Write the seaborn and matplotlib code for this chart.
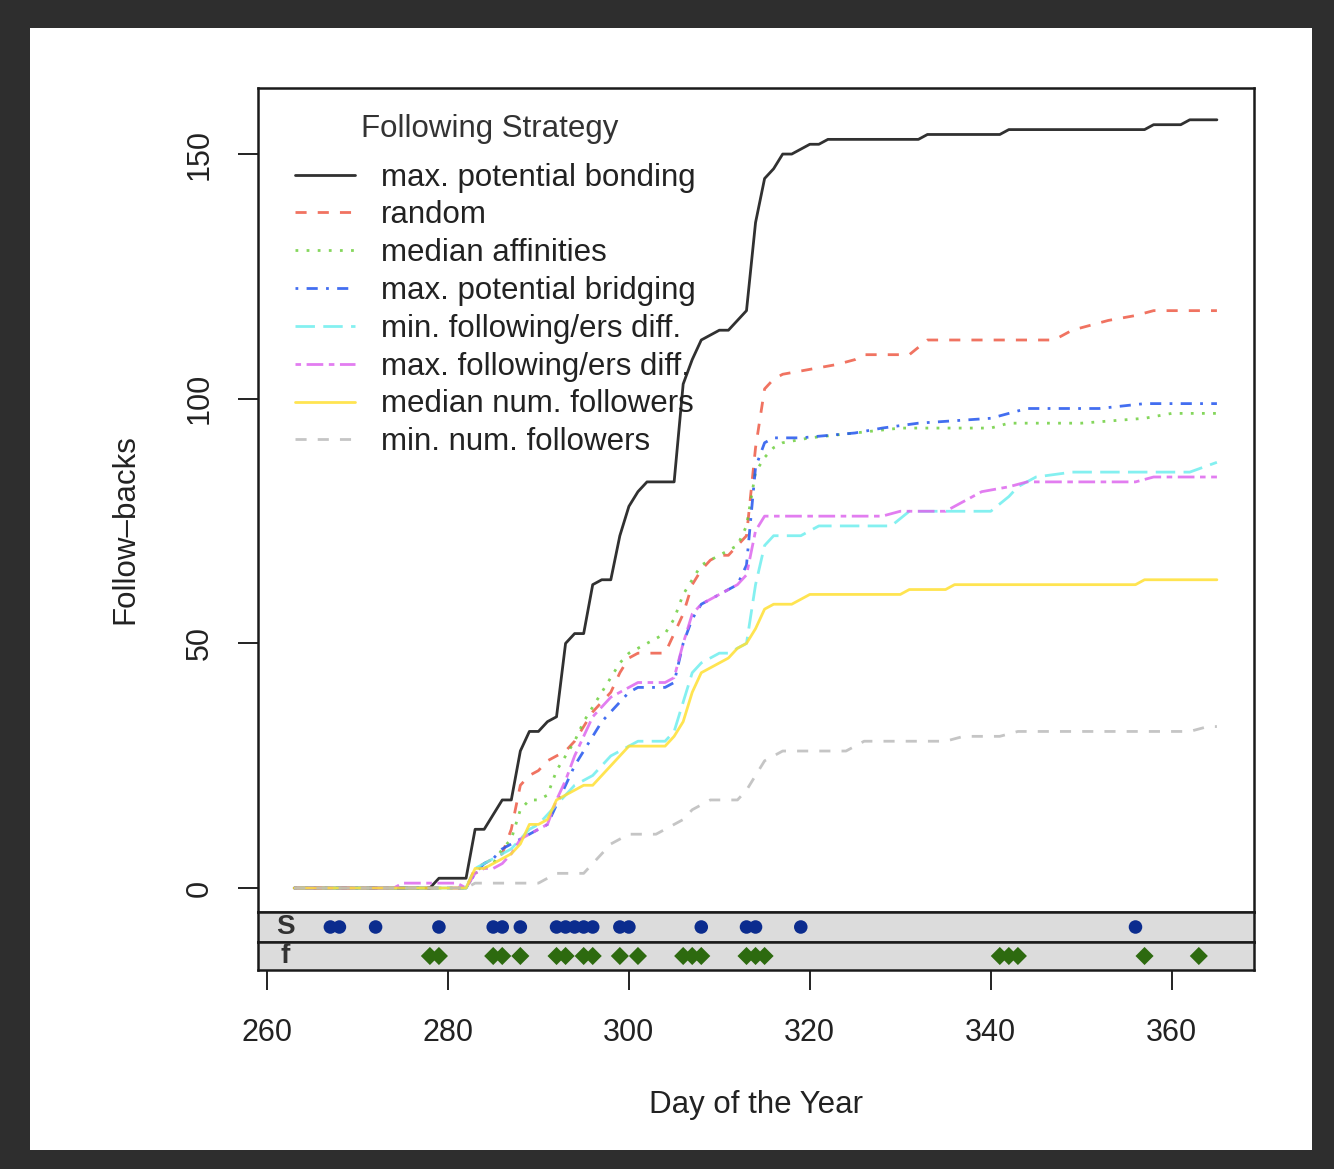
import numpy as np
import pandas as pd
import matplotlib.pyplot as plt
import seaborn as sns
from matplotlib.patches import Rectangle

sns.set_style("white")
plt.rcParams['font.family'] = ['Liberation Sans', 'DejaVu Sans']

# --- data (breakpoints of each cumulative curve) ---
strategies = ['max. potential bonding', 'random', 'median affinities',
              'max. potential bridging', 'min. following/ers diff.',
              'max. following/ers diff.', 'median num. followers',
              'min. num. followers']

bonding_day = [263, 278, 279, 282, 283, 284, 285, 286, 287, 288, 289, 290, 291, 292, 293, 294, 295, 296,
               297, 298, 299, 300, 301, 302, 303, 304, 305, 306, 307, 308, 309, 310, 311, 312, 313, 314,
               315, 316, 317, 318, 319, 320, 321, 322, 332, 333, 341, 342, 357, 358, 361, 362, 365]
bonding_val = [0, 0, 2, 2, 12, 12, 15, 18, 18, 28, 32, 32, 34, 35, 50, 52, 52, 62,
               63, 63, 72, 78, 81, 83, 83, 83, 83, 103, 108, 112, 113, 114, 114, 116, 118, 136,
               145, 147, 150, 150, 151, 152, 152, 153, 153, 154, 154, 155, 155, 156, 156, 157, 157]

random_day = [263, 282, 283, 284, 285, 286, 287, 288, 289, 290, 291, 292, 293, 294, 295, 296, 297, 298,
              299, 300, 301, 304, 305, 306, 307, 308, 309, 310, 311, 312, 313, 314, 315, 316, 317, 320,
              323, 325, 326, 331, 333, 347, 349, 351, 353, 356, 358, 365]
random_val = [0, 0, 4, 5, 6, 7, 12, 21, 23, 24, 26, 27, 28, 30, 33, 36, 38, 40,
              44, 47, 48, 48, 52, 56, 62, 65, 67, 68, 68, 70, 72, 90, 102, 104, 105, 106,
              107, 108, 109, 109, 112, 112, 114, 115, 116, 117, 118, 118]

affin_day = [263, 282, 283, 285, 286, 287, 288, 289, 290, 291, 292, 293, 294, 295, 296, 297, 298, 299,
             300, 301, 302, 303, 304, 305, 306, 307, 308, 309, 310, 311, 312, 313, 314, 315, 316, 317,
             320, 325, 330, 340, 342, 350, 357, 360, 365]
affin_val = [0, 0, 3, 5, 8, 10, 16, 18, 18, 19, 24, 27, 30, 34, 37, 40, 43, 46,
             48, 49, 50, 51, 52, 55, 60, 63, 66, 67, 68, 69, 70, 74, 85, 88, 90, 91,
             92, 93, 94, 94, 95, 95, 96, 97, 97]

bridg_day = [263, 282, 283, 284, 285, 286, 287, 288, 289, 290, 291, 292, 293, 294, 295, 296, 297, 298,
             299, 300, 301, 304, 305, 306, 307, 308, 309, 310, 311, 312, 313, 314, 315, 316, 319, 325,
             328, 332, 340, 344, 352, 357, 365]
bridg_val = [0, 0, 3, 5, 6, 8, 9, 10, 11, 12, 13, 17, 21, 25, 28, 31, 34, 36,
             38, 40, 41, 41, 42, 50, 55, 58, 59, 60, 61, 62, 66, 86, 91, 92, 92, 93,
             94, 95, 96, 98, 98, 99, 99]

minfd_day = [263, 282, 283, 284, 285, 286, 287, 288, 289, 290, 291, 292, 293, 294, 295, 296, 297, 298,
             299, 300, 301, 304, 305, 306, 307, 308, 309, 310, 311, 312, 313, 314, 315, 316, 319, 321,
             329, 331, 340, 342, 343, 345, 349, 362, 365]
minfd_val = [0, 0, 4, 5, 6, 7, 8, 10, 12, 13, 15, 17, 19, 21, 22, 23, 25, 27,
             28, 29, 30, 30, 32, 38, 44, 46, 47, 48, 48, 49, 50, 62, 70, 72, 72, 74,
             74, 77, 77, 80, 82, 84, 85, 85, 87]

maxfd_day = [263, 274, 275, 281, 282, 283, 284, 285, 286, 287, 288, 289, 290, 291, 292, 293, 294, 295,
             296, 297, 298, 299, 300, 301, 304, 305, 306, 307, 308, 309, 310, 311, 312, 313, 314, 315,
             328, 330, 335, 337, 339, 342, 344, 356, 358, 365]
maxfd_val = [0, 0, 1, 1, 0, 3, 4, 4, 5, 7, 10, 11, 12, 13, 18, 22, 27, 31,
             35, 37, 39, 40, 41, 42, 42, 43, 50, 56, 58, 59, 60, 61, 62, 64, 73, 76,
             76, 77, 77, 79, 81, 82, 83, 83, 84, 84]

mednf_day = [263, 282, 283, 284, 285, 286, 287, 288, 289, 290, 291, 292, 293, 294, 295, 296, 297, 298,
             299, 300, 301, 304, 305, 306, 307, 308, 309, 310, 311, 312, 313, 314, 315, 316, 318, 320,
             330, 331, 335, 336, 356, 357, 365]
mednf_val = [0, 0, 4, 4, 5, 6, 7, 9, 13, 13, 14, 18, 19, 20, 21, 21, 23, 25,
             27, 29, 29, 29, 31, 34, 40, 44, 45, 46, 47, 49, 50, 53, 57, 58, 58, 60,
             60, 61, 61, 62, 62, 63, 63]

minnf_day = [263, 282, 283, 290, 291, 292, 295, 296, 297, 298, 299, 300, 303, 304, 305, 306, 307, 308,
             309, 312, 313, 314, 315, 316, 317, 324, 326, 335, 337, 341, 343, 362, 364, 365]
minnf_val = [0, 0, 1, 1, 2, 3, 3, 5, 7, 9, 10, 11, 11, 12, 13, 14, 16, 17,
             18, 18, 20, 23, 26, 27, 28, 28, 30, 30, 31, 31, 32, 32, 33, 33]

# days with follow events in the two rug strips
s_days = [267, 268, 272, 279, 285, 286, 288, 292, 293, 294, 295, 296, 299, 300, 308, 313, 314, 319, 356]
f_days = [278, 279, 285, 286, 288, 292, 293, 295, 296, 299, 301, 306, 307, 308, 313, 314, 315,
          341, 342, 343, 357, 363]

series = [(bonding_day, bonding_val), (random_day, random_val), (affin_day, affin_val),
          (bridg_day, bridg_val), (minfd_day, minfd_val), (maxfd_day, maxfd_val),
          (mednf_day, mednf_val), (minnf_day, minnf_val)]

colors = ['#1a1a1a', '#EE5A45', '#66CC33', '#2255EE', '#6FEEEE', '#DD66EE', '#FFE033', '#BBBBBB']
styles = ['-', (0, (4, 4)), (0, (1, 3)), (0, (1, 3, 4, 3)), (0, (7, 3)), (0, (2, 2, 6, 2)),
          '-', (0, (4, 4))]
alphas = [0.9, 0.85, 0.8, 0.85, 0.85, 0.85, 0.85, 0.85]

W, H = 1334, 1169
txt = '#222222'

fig = plt.figure(figsize=(W / 100, H / 100), dpi=100)
fig.patch.set_facecolor('#2e2e2e')
fig.add_artist(Rectangle((30 / W, 1 - 1150 / H), 1282 / W, 1122 / H,
                         transform=fig.transFigure, facecolor='white', edgecolor='none', zorder=-10))

ax = fig.add_axes([258 / W, 1 - 912 / H, 996 / W, 824 / H])
axs = fig.add_axes([258 / W, 1 - 942 / H, 996 / W, 30 / H], sharex=ax)
axf = fig.add_axes([258 / W, 1 - 970 / H, 996 / W, 28 / H], sharex=ax)

for (d, v), c, ls, a in zip(series, colors, styles, alphas):
    sns.lineplot(x=d, y=v, ax=ax, color=c, linestyle=ls, lw=2, alpha=a, legend=False)

ax.set_xlim(259.0, 369.1)
ax.set_ylim(-4.9, 163.5)
ax.set_xlabel('')
ax.set_ylabel('')
ax.set_yticks([0, 50, 100, 150])
ax.set_yticklabels(['0', '50', '100', '150'], rotation=90, va='center')
ax.tick_params(axis='y', left=True, direction='out', length=14.4, width=1.4,
               pad=17, labelsize=22, colors=txt)
ax.tick_params(axis='x', bottom=False, labelbottom=False)

# legend (title placed separately to get the wider gap under it)
ax.text((490 - 258) / 996, (912 - 129) / 824, 'Following Strategy', transform=ax.transAxes,
        ha='center', va='center', fontsize=22.5, color='#333333')
leg = ax.legend(ax.lines[:8], strategies, loc='upper left',
                bbox_to_anchor=(0.037, 0.9095), frameon=False, fontsize=22.5,
                handlelength=1.92, handletextpad=0.83,
                labelspacing=0.25, borderpad=0, borderaxespad=0)
for t in leg.get_texts():
    t.set_color(txt)

# rug strips
sns.scatterplot(x=s_days, y=[0] * len(s_days), ax=axs, color='#0B2C8E', marker='o',
                s=95, edgecolor='none', legend=False)
sns.scatterplot(x=f_days, y=[0] * len(f_days), ax=axf, color='#2D6A0F', marker='D',
                s=85, edgecolor='none', legend=False)
axs.text(262.0, 0, 'S', ha='center', va='center', fontsize=20, fontweight='bold', color='#333333')
axf.text(262.0, 0, 'f', ha='center', va='center', fontsize=20, fontweight='bold', color='#333333')

for a in (axs, axf):
    a.set_facecolor('#DCDCDC')
    a.set_ylim(-1, 1)
    a.set_yticks([])
    a.set_ylabel('')
for a in (ax, axs, axf):
    for sp in a.spines.values():
        sp.set_visible(True)
        sp.set_color('#1a1a1a')
        sp.set_linewidth(1.8)

axs.tick_params(axis='x', bottom=False, labelbottom=False)
axf.set_xticks([260, 280, 300, 320, 340, 360])
axf.tick_params(axis='x', bottom=True, direction='out', length=14.4, width=1.4,
                pad=20, labelsize=22, colors=txt)

fig.text(756 / W, 1 - 1105 / H, 'Day of the Year', ha='center', va='center',
         fontsize=22.5, color=txt)
fig.text(125 / W, 1 - 529 / H, 'Follow\u2013backs', ha='center', va='center',
         rotation=90, fontsize=22.5, color=txt)

fig.savefig('out.png', dpi=100)
